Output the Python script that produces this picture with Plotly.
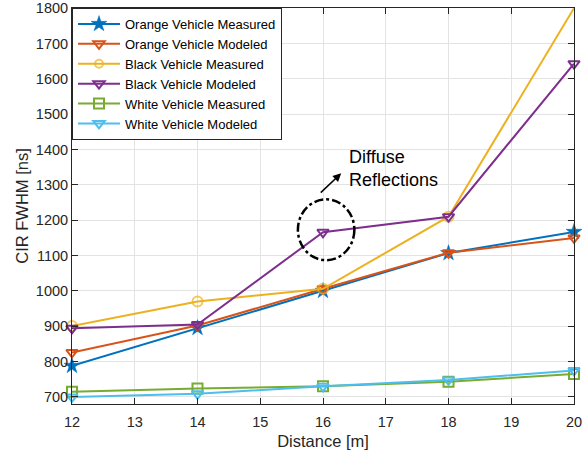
import plotly.graph_objects as go

distance = [12, 14, 16, 18, 20]
orange_measured = [788, 895, 1000, 1107, 1167]
orange_modeled = [826, 902, 1006, 1108, 1150]
black_measured = [901, 970, 1006, 1210, 1800]
black_modeled = [894, 905, 1166, 1210, 1643]
white_measured = [715, 724, 730, 743, 765]
white_modeled = [700, 709, 730, 748, 775]

series = [
    ("Orange Vehicle Measured", orange_measured, "#0072BD", "star", 12),
    ("Orange Vehicle Modeled", orange_modeled, "#D95319", "triangle-down-open", 10),
    ("Black Vehicle Measured", black_measured, "#EDB120", "circle-open", [10, 10, 10, 10, 0]),
    ("Black Vehicle Modeled", black_modeled, "#7E2F8E", "triangle-down-open", 10),
    ("White Vehicle Measured", white_measured, "#77AC30", "square-open", 10),
    ("White Vehicle Modeled", white_modeled, "#4DBEEE", "triangle-down-open", 10),
]

fig = go.Figure()
for name, vals, color, sym, msize in series:
    fig.add_trace(go.Scatter(
        x=distance, y=vals, name=name, mode="lines+markers",
        line=dict(color=color, width=2),
        marker=dict(symbol=sym, size=msize, color=color,
                    line=dict(color=color, width=2 if sym != "star" else 0.5)),
        cliponaxis=False,
    ))

axis_common = dict(
    showline=True, linecolor="#262626", linewidth=1, mirror="ticks",
    ticks="inside", ticklen=6, tickcolor="#262626",
    showgrid=True, gridcolor="#e3e3e3", gridwidth=1,
    zeroline=False, tickfont=dict(size=14.5, color="#262626"),
    ticklabeloverflow="allow", automargin=False,
)

fig.update_layout(
    width=582, height=457,
    margin=dict(l=72, r=8, t=8, b=53),
    paper_bgcolor="white", plot_bgcolor="white",
    font=dict(family="Liberation Sans, Arial, sans-serif", color="#262626"),
    showlegend=True,
    legend=dict(x=0, y=1, xanchor="left", yanchor="top",
                bgcolor="white", bordercolor="#262626", borderwidth=1,
                font=dict(size=13, color="#000000"), tracegroupgap=0,
                itemwidth=42),
    xaxis=dict(range=[12, 20], dtick=1, ticklabelstandoff=5,
               title=dict(text="Distance [m]", font=dict(size=16.5), standoff=6),
               **axis_common),
    yaxis=dict(range=[680, 1800.5], tick0=700, dtick=100,
               title=dict(text="CIR FWHM [ns]", font=dict(size=16.5), standoff=3),
               **axis_common),
)

fig.add_shape(type="circle", xref="x", yref="y",
              x0=15.6, x1=16.5, y0=1087, y1=1259,
              line=dict(color="black", width=2.5, dash="dashdot"))

fig.add_annotation(x=16.29, y=1333, ax=15.94, ay=1274, xref="x", yref="y",
                   axref="x", ayref="y", text="", showarrow=True,
                   arrowhead=2, arrowsize=1.1, arrowwidth=1.5, arrowcolor="black")
fig.add_annotation(x=16.39, y=1346, xref="x", yref="y", text="Diffuse<br>Reflections",
                   showarrow=False, xanchor="left", yanchor="middle", align="left",
                   font=dict(size=18, color="black"))

fig.write_html("out.html", config={"displayModeBar": False},
               post_script="document.body.style.margin='0';")
